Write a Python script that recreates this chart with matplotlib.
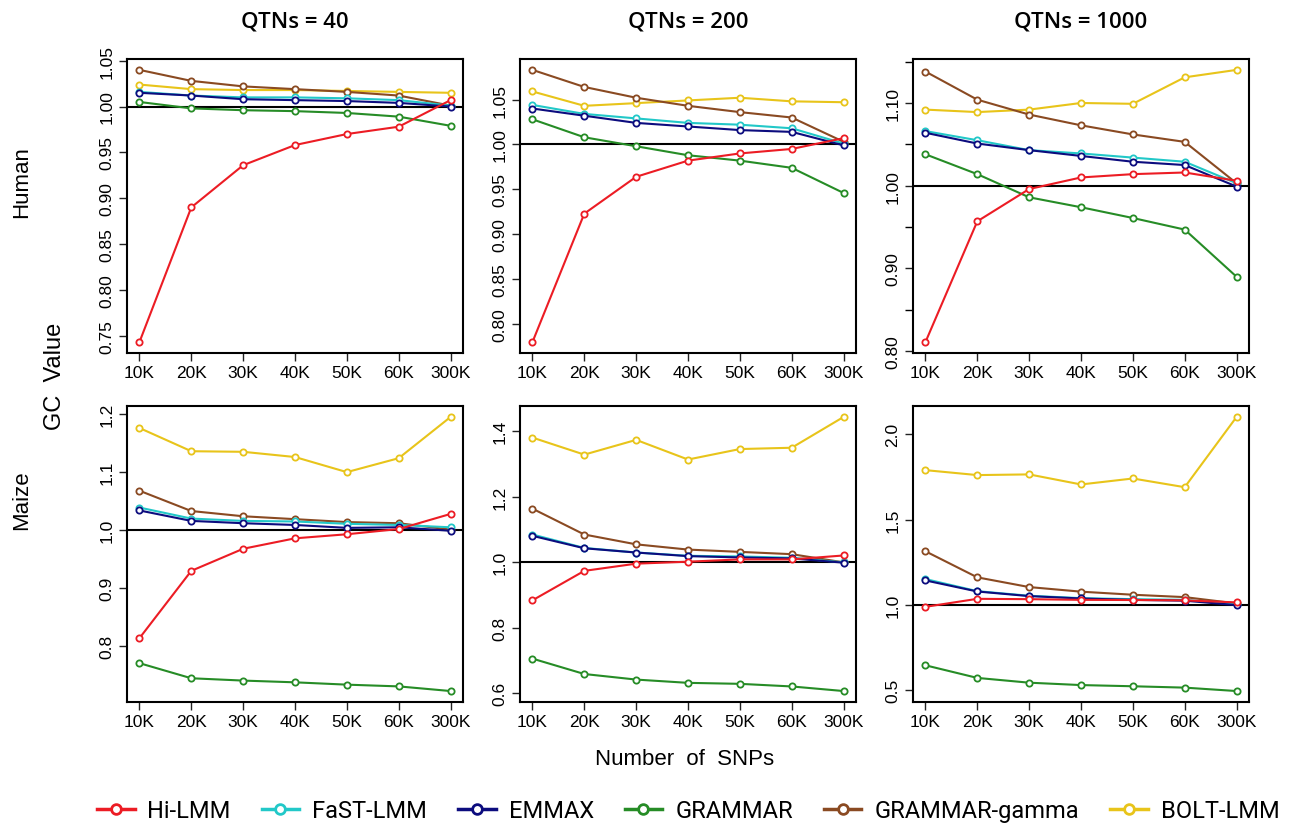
import matplotlib
matplotlib.use("Agg")
import matplotlib.pyplot as plt
from matplotlib.ticker import MultipleLocator, FormatStrFormatter
from matplotlib.lines import Line2D

snp_labels = ["10K", "20K", "30K", "40K", "50K", "60K", "300K"]
methods = ["Hi-LMM", "FaST-LMM", "EMMAX", "GRAMMAR", "GRAMMAR-gamma", "BOLT-LMM"]
qtns = [40, 200, 1000]
species = ["Human", "Maize"]

# one list per method, in the order of `methods`
human_40 = [
    [0.743, 0.890, 0.936, 0.958, 0.970, 0.978, 1.007],
    [1.016, 1.012, 1.010, 1.010, 1.009, 1.007, 1.001],
    [1.015, 1.012, 1.008, 1.007, 1.006, 1.004, 1.000],
    [1.005, 0.998, 0.996, 0.995, 0.993, 0.989, 0.979],
    [1.040, 1.028, 1.022, 1.019, 1.016, 1.012, 1.001],
    [1.024, 1.019, 1.018, 1.018, 1.017, 1.016, 1.015],
]
human_200 = [
    [0.780, 0.923, 0.964, 0.982, 0.990, 0.995, 1.007],
    [1.044, 1.034, 1.029, 1.024, 1.022, 1.018, 1.001],
    [1.040, 1.032, 1.024, 1.020, 1.016, 1.014, 0.999],
    [1.028, 1.008, 0.998, 0.988, 0.982, 0.974, 0.946],
    [1.083, 1.064, 1.052, 1.043, 1.036, 1.030, 1.003],
    [1.059, 1.043, 1.046, 1.049, 1.052, 1.048, 1.047],
]
human_1000 = [
    [0.811, 0.957, 0.996, 1.010, 1.014, 1.016, 1.006],
    [1.066, 1.055, 1.043, 1.039, 1.034, 1.029, 1.003],
    [1.064, 1.051, 1.043, 1.036, 1.029, 1.025, 0.999],
    [1.038, 1.014, 0.986, 0.974, 0.961, 0.947, 0.890],
    [1.138, 1.104, 1.086, 1.073, 1.062, 1.053, 1.003],
    [1.092, 1.089, 1.092, 1.100, 1.099, 1.131, 1.140],
]
maize_40 = [
    [0.814, 0.930, 0.968, 0.986, 0.993, 1.002, 1.028],
    [1.039, 1.020, 1.016, 1.015, 1.011, 1.009, 1.005],
    [1.034, 1.016, 1.012, 1.009, 1.004, 1.005, 0.999],
    [0.771, 0.745, 0.741, 0.738, 0.734, 0.731, 0.723],
    [1.068, 1.033, 1.024, 1.019, 1.014, 1.012, 1.001],
    [1.176, 1.136, 1.135, 1.126, 1.100, 1.124, 1.195],
]
maize_200 = [
    [0.884, 0.974, 0.996, 1.002, 1.009, 1.009, 1.021],
    [1.085, 1.044, 1.030, 1.020, 1.018, 1.014, 1.000],
    [1.081, 1.043, 1.030, 1.019, 1.015, 1.012, 0.999],
    [0.706, 0.659, 0.642, 0.632, 0.629, 0.621, 0.607],
    [1.164, 1.085, 1.055, 1.039, 1.032, 1.025, 1.000],
    [1.381, 1.329, 1.374, 1.314, 1.346, 1.350, 1.444],
]
maize_1000 = [
    [0.988, 1.035, 1.033, 1.029, 1.028, 1.026, 1.014],
    [1.151, 1.080, 1.053, 1.039, 1.033, 1.029, 1.002],
    [1.143, 1.078, 1.051, 1.037, 1.029, 1.024, 0.998],
    [0.645, 0.571, 0.543, 0.529, 0.522, 0.514, 0.494],
    [1.314, 1.161, 1.104, 1.077, 1.059, 1.045, 1.008],
    [1.790, 1.761, 1.765, 1.706, 1.741, 1.690, 2.102],
]

panels = [[human_40, human_200, human_1000], [maize_40, maize_200, maize_1000]]

colors = ["#ec1c24", "#22c8c8", "#0c0c7e", "#268c26", "#8a4a22", "#e8c41a"]
zorders = [8, 5, 6, 4, 3, 2]
# (major step, minor step, label format) per panel
tick_setup = [
    [(0.05, None, "%.2f"), (0.05, None, "%.2f"), (0.10, 0.05, "%.2f")],
    [(0.1, None, "%.1f"), (0.2, None, "%.1f"), (0.5, None, "%.1f")],
]

W, H = 1292, 829
fig = plt.figure(figsize=(W / 100, H / 100), dpi=100)
plt.rcParams["font.family"] = ["Liberation Sans", "DejaVu Sans"]
narrow = ["Roboto", "DejaVu Sans"]

col_left = [127, 520, 913]
col_w = 336
row_top = [60, 407]
row_h = [294, 296]

x = list(range(1, len(snp_labels) + 1))

for r in range(2):
    for c in range(3):
        ax = fig.add_axes([col_left[c] / W, 1 - (row_top[r] + row_h[r]) / H,
                           col_w / W, row_h[r] / H])
        data = panels[r][c]
        for k, vals in enumerate(data):
            ax.plot(x, vals, color=colors[k], lw=1.5, marker="o", ms=4.5,
                    mfc="white", mew=1.3, zorder=zorders[k])
        ax.axhline(1.0, color="black", lw=1.5, zorder=1)

        lo = min(min(v) for v in data)
        hi = max(max(v) for v in data)
        pad = (hi - lo) * 0.04
        ax.set_ylim(lo - pad, hi + pad)
        ax.set_xlim(1 - 0.24, len(x) + 0.24)

        major, minor, fmt = tick_setup[r][c]
        ax.yaxis.set_major_locator(MultipleLocator(major))
        ax.yaxis.set_major_formatter(FormatStrFormatter(fmt))
        if minor:
            ax.yaxis.set_minor_locator(MultipleLocator(minor))
            ax.tick_params(axis="y", which="minor", length=6, width=1.0)
        ax.set_xticks(x)
        ax.set_xticklabels(snp_labels)
        ax.tick_params(axis="both", which="major", length=6, width=1.0,
                       labelsize=12.5, color="#222222")
        ax.tick_params(axis="x", pad=3)
        ax.tick_params(axis="y", pad=3)
        for lab in ax.get_yticklabels():
            lab.set_rotation(90)
            lab.set_va("center")
        for s in ax.spines.values():
            s.set_linewidth(1.5)

        if r == 0:
            fig.text((col_left[c] + col_w / 2) / W, 1 - 22 / H,
                     f"QTNs = {qtns[c]}", ha="center", va="center",
                     fontsize=16, family=["Open Sans", "DejaVu Sans"],
                     fontweight="semibold")

fig.text(22 / W, 1 - 182 / H, "Human", rotation=90, ha="center", va="center", fontsize=16)
fig.text(22 / W, 1 - 500 / H, "Maize", rotation=90, ha="center", va="center", fontsize=16)
fig.text(55 / W, 1 - 376 / H, "GC  Value", rotation=90, ha="center", va="center", fontsize=17)
fig.text(685 / W, 1 - 760 / H, "Number  of  SNPs", ha="center", va="center", fontsize=16)

handles = [Line2D([], [], color=col, lw=2.5, marker="o", ms=7, mfc="white", mew=2)
           for col in colors]
fig.legend(handles, methods, loc="center", bbox_to_anchor=(688 / W, 1 - 812 / H),
           ncol=6, frameon=False, handlelength=1.6, columnspacing=1.3,
           handletextpad=0.55, prop={"family": narrow, "size": 17})

fig.savefig("out.png", dpi=100)
